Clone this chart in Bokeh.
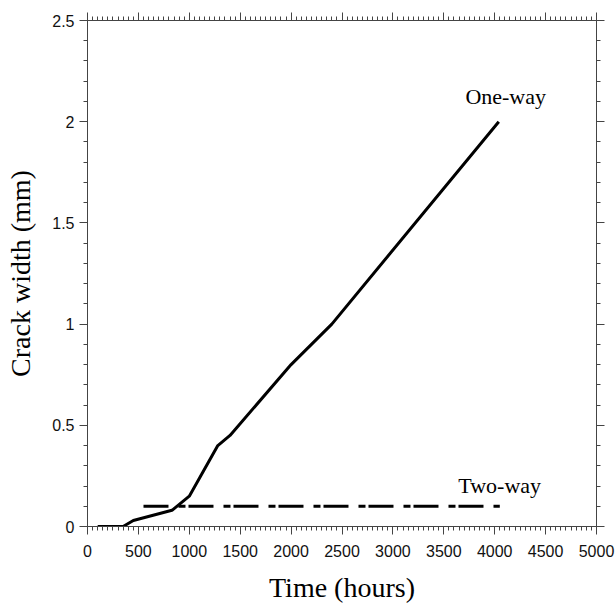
from bokeh.plotting import figure
from bokeh.models import Range1d, FixedTicker, LinearAxis, CustomJSTickFormatter
from bokeh.core.properties import value
from bokeh.embed import file_html
from bokeh.resources import INLINE

# data
one_way_time = [100, 350, 450, 830, 1000, 1280, 1400, 2000, 2400, 4040]
one_way_width = [0, 0, 0.03, 0.08, 0.15, 0.40, 0.45, 0.80, 1.00, 2.00]
two_way_time = [550, 4050]
two_way_width = [0.10, 0.10]

x_ticks = [0, 500, 1000, 1500, 2000, 2500, 3000, 3500, 4000, 4500, 5000]
x_tick_labels = ["0", "500", "1000", "1500", "2000", "2500", "3000", "3500", "4000", "4500", "5000"]
x_minor = list(range(0, 5001, 50))
y_ticks = [0, 0.5, 1.0, 1.5, 2.0, 2.5]
y_tick_labels = ["0", "0.5", "1", "1.5", "2", "2.5"]
y_minor = [i / 10 for i in range(0, 26)]

labels_x = [4108, 4049]
labels_y = [2.125, 0.205]
labels_text = ["One-way", "Two-way"]

p = figure(width=616, height=605, output_backend="svg", toolbar_location=None,
           x_range=Range1d(0, 5000), y_range=Range1d(0, 2.5),
           min_border_left=87, min_border_right=20, min_border_top=20, min_border_bottom=78,
           x_axis_label="Time (hours)", y_axis_label="Crack width (mm)")
p.outline_line_color = None
p.grid.visible = False

axis_color = "#444444"

def style(ax, ticks, minor, labels, show_labels=True):
    ax.ticker = FixedTicker(ticks=ticks, minor_ticks=minor)
    ax.axis_line_color = axis_color
    ax.major_tick_line_color = axis_color
    ax.minor_tick_line_color = axis_color
    ax.major_tick_out = 8
    ax.major_tick_in = 0
    ax.minor_tick_out = 4
    ax.minor_tick_in = 0
    ax.major_label_text_font = "Liberation Sans"
    ax.major_label_text_font_size = "16px"
    ax.major_label_text_color = "#111111"
    if show_labels:
        ax.major_label_overrides = {t: l for t, l in zip(ticks, labels)}
    else:
        ax.major_label_text_font_size = "0px"
        ax.major_label_standoff = 0
    ax.axis_label_text_font = "Liberation Serif"
    ax.axis_label_text_font_size = "28px"
    ax.axis_label_text_font_style = "normal"
    ax.axis_label_text_color = "#000000"

style(p.xaxis[0], x_ticks, x_minor, x_tick_labels)
style(p.yaxis[0], y_ticks, y_minor, y_tick_labels)
p.xaxis[0].major_label_standoff = 10
p.yaxis[0].major_label_standoff = 5
p.xaxis[0].axis_label_standoff = 12
p.yaxis[0].axis_label_standoff = 13

top = LinearAxis()
style(top, x_ticks, x_minor, x_tick_labels, show_labels=False)
top.formatter = CustomJSTickFormatter(code="return ''")
p.add_layout(top, "above")
right = LinearAxis()
style(right, y_ticks, y_minor, y_tick_labels, show_labels=False)
right.formatter = CustomJSTickFormatter(code="return ''")
p.add_layout(right, "right")

p.line(one_way_time, one_way_width, line_color="black", line_width=3)
p.line(two_way_time, two_way_width, line_color="black", line_width=3,
       line_dash="25 10 7 3", line_cap="butt")

p.text(labels_x, labels_y, text=labels_text, text_font=value("Liberation Serif"),
       text_font_size="22px", text_align="center", text_baseline="alphabetic",
       text_color="black")

open("out.html", "w").write(file_html(p, INLINE))
